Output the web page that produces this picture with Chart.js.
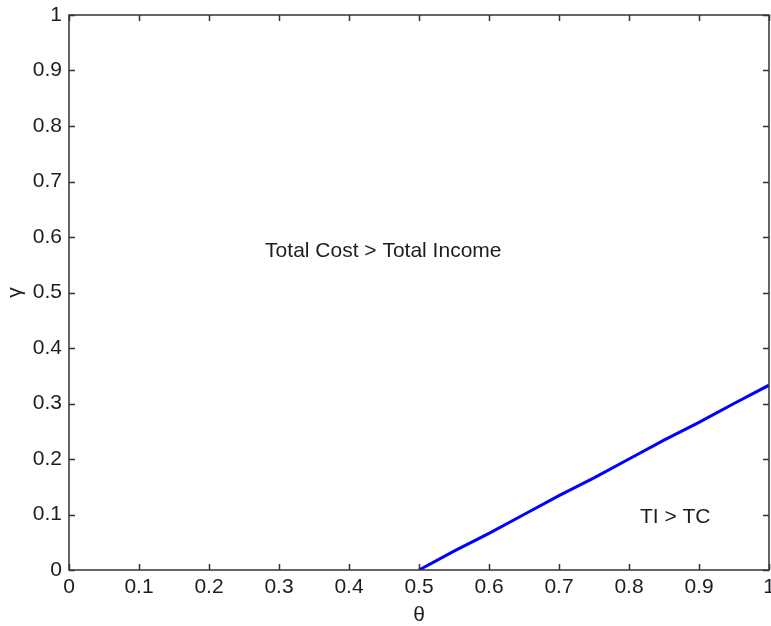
<!DOCTYPE html>
<html>
<head>
<meta charset="utf-8">
<script src="https://cdn.jsdelivr.net/npm/chart.js@4"></script>
<style>
html,body{margin:0;padding:0;background:#fff;overflow:hidden;}
#wrap{width:800px;height:626px;}
canvas{display:block;}
</style>
</head>
<body>
<div id="wrap"><canvas id="c" width="800" height="626" style="width:800px;height:626px"></canvas></div>
<script>
// ---- data ----
const thetaValues = [0.5, 0.55, 0.6, 0.65, 0.7, 0.75, 0.8, 0.85, 0.9, 0.95, 1.0];
const gammaValues = [0, 0.034, 0.066, 0.1, 0.134, 0.166, 0.2, 0.234, 0.266, 0.3, 0.333];
const xTickValues = [0, 0.1, 0.2, 0.3, 0.4, 0.5, 0.6, 0.7, 0.8, 0.9, 1];
const xTickLabels = ['0', '0.1', '0.2', '0.3', '0.4', '0.5', '0.6', '0.7', '0.8', '0.9', '1'];
const yTickValues = [0, 0.1, 0.2, 0.3, 0.4, 0.5, 0.6, 0.7, 0.8, 0.9, 1];
const yTickLabels = ['0', '0.1', '0.2', '0.3', '0.4', '0.5', '0.6', '0.7', '0.8', '0.9', '1'];
const xAxisTitle = 'θ';
const yAxisTitle = 'γ';
const annotations = [
  { text: 'Total Cost > Total Income', x: 0.449, y: 0.575 },
  { text: 'TI > TC', x: 0.866, y: 0.095 }
];

const FONT = '"Liberation Sans", Arial, sans-serif';
const TEXT_COLOR = '#1c1c24';
const AXIS_COLOR = '#333333';
const FS = 21;

const points = thetaValues.map((t, i) => ({ x: t, y: gammaValues[i] }));

const boxTicks = {
  id: 'boxTicks',
  afterDatasetsDraw(chart) {
    const { ctx, chartArea: a, scales } = chart;
    const L = 6;
    ctx.save();
    ctx.strokeStyle = AXIS_COLOR;
    ctx.lineWidth = 1.5;
    ctx.strokeRect(a.left, a.top, a.right - a.left, a.bottom - a.top);
    ctx.beginPath();
    xTickValues.forEach(v => {
      const px = Math.round(scales.x.getPixelForValue(v)) + 0.5;
      ctx.moveTo(px, a.bottom); ctx.lineTo(px, a.bottom - L);
      ctx.moveTo(px, a.top); ctx.lineTo(px, a.top + L);
    });
    yTickValues.forEach(v => {
      const py = Math.round(scales.y.getPixelForValue(v)) + 0.5;
      ctx.moveTo(a.left, py); ctx.lineTo(a.left + L, py);
      ctx.moveTo(a.right, py); ctx.lineTo(a.right - L, py);
    });
    ctx.stroke();
    // annotations
    ctx.fillStyle = TEXT_COLOR;
    ctx.font = FS + 'px ' + FONT;
    ctx.textAlign = 'center';
    ctx.textBaseline = 'middle';
    annotations.forEach(an => {
      ctx.fillText(an.text, scales.x.getPixelForValue(an.x), scales.y.getPixelForValue(an.y));
    });
    ctx.restore();
  }
};

new Chart(document.getElementById('c'), {
  type: 'scatter',
  data: {
    datasets: [{
      data: points,
      showLine: true,
      borderColor: '#0000ff',
      borderWidth: 3,
      pointRadius: 0,
      fill: false,
      tension: 0
    }]
  },
  options: {
    responsive: false,
    animation: false,
    events: [],
    layout: { padding: { top: 15, right: 31, bottom: 0, left: 0 } },
    plugins: { legend: { display: false }, tooltip: { enabled: false } },
    scales: {
      x: {
        type: 'linear', min: 0, max: 1,
        afterBuildTicks: s => { s.ticks = xTickValues.map(v => ({ value: v })); },
        afterFit: s => { s.height = 56; s.paddingLeft = 0; s.paddingRight = 0; },
        grid: { display: false, drawTicks: false },
        border: { display: false },
        ticks: {
          padding: 5,
          color: TEXT_COLOR,
          font: { family: FONT, size: FS },
          maxRotation: 0,
          autoSkip: false,
          callback: (v, i) => xTickLabels[i]
        },
        title: {
          display: true, text: xAxisTitle, color: TEXT_COLOR,
          font: { family: FONT, size: FS, lineHeight: 1 }, padding: { top: 0, bottom: 0 }
        }
      },
      y: {
        type: 'linear', min: 0, max: 1,
        afterBuildTicks: s => { s.ticks = yTickValues.map(v => ({ value: v })); },
        afterFit: s => { s.width = 69; s.paddingTop = 0; s.paddingBottom = 0; },
        grid: { display: false, drawTicks: false },
        border: { display: false },
        ticks: {
          padding: 7,
          color: TEXT_COLOR,
          font: { family: FONT, size: FS },
          autoSkip: false,
          callback: (v, i) => yTickLabels[i]
        },
        title: {
          display: true, text: yAxisTitle, color: TEXT_COLOR,
          font: { family: FONT, size: FS }, padding: { top: 3, bottom: 0 }
        }
      }
    }
  },
  plugins: [boxTicks]
});
</script>
</body>
</html>
